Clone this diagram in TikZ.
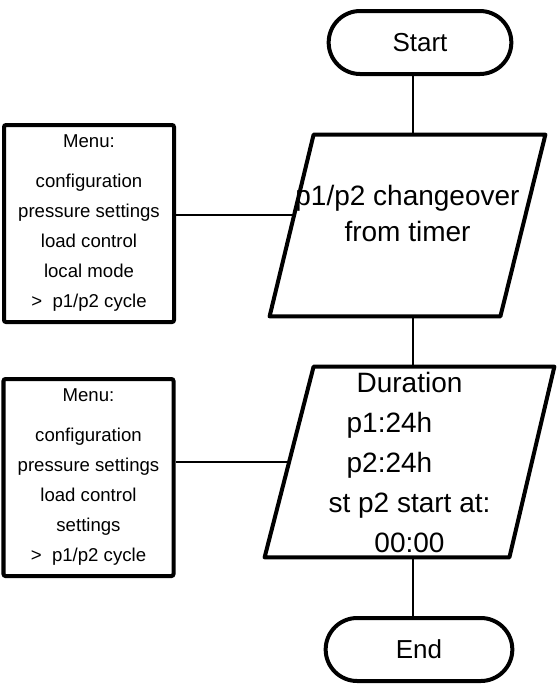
\documentclass[tikz,border=0pt]{standalone}
\usepackage{fontspec}
\setmainfont{Liberation Sans}
\usetikzlibrary{positioning,calc,shapes.misc}

\begin{document}
\begin{tikzpicture}[x=0.5pt,y=-0.5pt,
  term/.style={draw,line width=2pt,rounded rectangle,minimum height=31.5pt,font=\fontsize{13}{16}\selectfont},
  io/.style={inner sep=0pt,align=center},
  frame/.style={line width=2pt,line join=round},
  menu/.style={draw,line width=2pt,rounded corners=1pt,minimum width=85pt,minimum height=98.5pt,align=center,font=\fontsize{9.3}{15}\selectfont},
  ln/.style={line width=1pt}]
\useasboundingbox (0,0) rectangle (557,687);
\node[term,minimum width=98pt] (start) at (420,42.5) {Start};
\node[io,minimum width=137.5pt,minimum height=90.5pt,text depth=12pt,font=\fontsize{14}{18}\selectfont] (p1) at (407.5,225.5) {p1/p2 changeover\\from timer};
\node[io,minimum width=144.5pt,minimum height=95pt,font=\fontsize{14}{20}\selectfont] (p2) at (409.5,462) {Duration\\p1:24h\rule{20pt}{0pt}\\p2:24h\rule{20pt}{0pt}\\st p2 start at:\\00:00};
\node[term,minimum width=100pt] (end) at (419,649.5) {End};
\node[menu] (m1) at (89,223.5) {Menu:\\[5pt]configuration\\pressure settings\\load control\\local mode\\>\ \ p1/p2 cycle};
\node[menu] (m2) at (88.5,477.5) {Menu:\\[5pt]configuration\\pressure settings\\load control\\settings\\>\ \ p1/p2 cycle};
\draw[frame] ($(p1.north west)+(44,0)$) -- (p1.north east) -- ($(p1.south east)+(-45,0)$) -- (p1.south west) -- cycle;
\draw[frame] ($(p2.north west)+(49,0)$) -- (p2.north east) -- ($(p2.south east)+(-45,0)$) -- (p2.south west) -- cycle;
\coordinate (axis) at (413,0);
\coordinate (link1) at ($(p1.west)+(25,-10.5)$);
\coordinate (link2) at ($(p2.west)+(24.5,0)$);
\draw[ln] (start.south -| axis) -- (p1.north -| axis);
\draw[ln] (p1.south -| axis) -- (p2.north -| axis);
\draw[ln] (p2.south -| axis) -- (end.north -| axis);
\draw[ln] (m1.east |- link1) -- (link1);
\draw[ln] (m2.east |- link2) -- (link2);
\end{tikzpicture}
\end{document}
